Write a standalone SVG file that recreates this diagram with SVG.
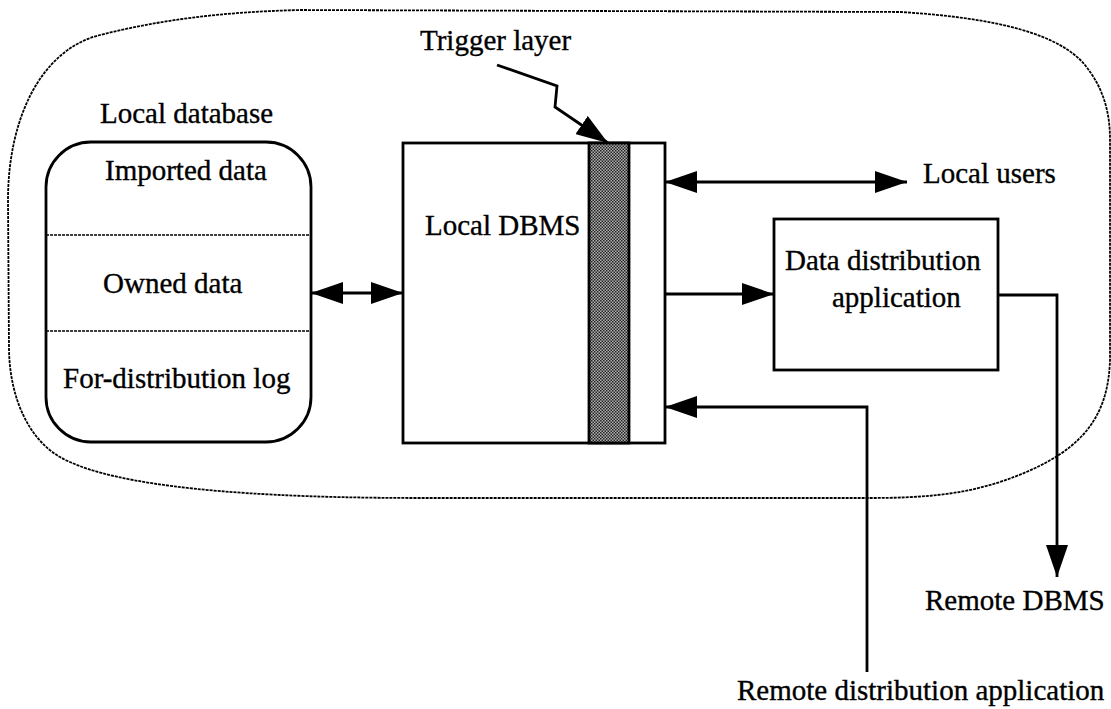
<svg xmlns="http://www.w3.org/2000/svg" width="1111" height="709" viewBox="0 0 1111 709">
<style>
text{font-family:"Liberation Serif","Times New Roman",serif;font-size:29px;fill:#000;stroke:#000;stroke-width:0.35}
.box{fill:#fff;stroke:#000;stroke-width:2.8}
.div{stroke:#000;stroke-width:1.6;stroke-dasharray:3 1;fill:none}
.wire{fill:none;stroke:#000;stroke-width:2.8}
.boundary{fill:none;stroke:#000;stroke-width:1.8;stroke-dasharray:3 1}
</style>
<defs>
<marker id="ah" markerUnits="userSpaceOnUse" markerWidth="32" markerHeight="22" refX="32" refY="11" orient="auto-start-reverse">
<path d="M0,0 L32,11 L0,22 Z" fill="#000"/>
</marker>
<pattern id="dots" width="3" height="3" patternUnits="userSpaceOnUse">
<rect width="3" height="3" fill="#b0b0b0"/>
<rect width="1.5" height="1.5" fill="#222"/>
<rect x="1.5" y="1.5" width="1.5" height="1.5" fill="#222"/>
</pattern>
</defs>
<g id="boundary">
<path class="boundary" d="M300,10 L900,12 C1000,18 1060,35 1085,65 C1105,90 1110,115 1110,140 L1110,360 C1108,420 1080,455 1000,482 C960,495 920,498 870,498 L420,498 C200,498 100,480 60,457 C30,440 10,400 9,350 L8,200 C8,120 40,50 100,35 C160,20 220,12 300,10 Z"/>
</g>
<g id="local-database">
<text x="100" y="123">Local database</text>
<rect class="box" x="46" y="142" width="265" height="300" rx="45" ry="45"/>
<line class="div" x1="46" y1="235" x2="311" y2="235"/>
<line class="div" x1="46" y1="331" x2="311" y2="331"/>
<text x="105" y="180">Imported data</text>
<text x="103" y="293">Owned data</text>
<text x="63" y="388">For-distribution log</text>
</g>
<g id="local-dbms">
<rect class="box" x="403" y="143" width="262" height="300"/>
<rect x="589" y="143" width="40" height="300" fill="url(#dots)" stroke="#000" stroke-width="2.8"/>
<text x="425" y="235">Local DBMS</text>
</g>
<g id="data-distribution-application">
<rect class="box" x="774" y="219" width="224" height="151"/>
<text x="785" y="270">Data distribution</text>
<text x="832" y="307">application</text>
</g>
<g id="labels">
<text x="420" y="50">Trigger layer</text>
<text x="923" y="183">Local users</text>
<text x="925" y="610">Remote DBMS</text>
<text x="737" y="700">Remote distribution application</text>
</g>
<g id="connectors">
<line class="wire" x1="311" y1="293" x2="403" y2="293" marker-start="url(#ah)" marker-end="url(#ah)"/>
<line class="wire" x1="665" y1="182" x2="907" y2="182" marker-start="url(#ah)" marker-end="url(#ah)"/>
<line class="wire" x1="665" y1="294" x2="774" y2="294" marker-end="url(#ah)"/>
<path class="wire" d="M998,295 H1057 V577" marker-end="url(#ah)"/>
<path class="wire" d="M867,672 V407 H665" marker-end="url(#ah)"/>
<polyline class="wire" points="497,65 557,86 555,107 608,143" marker-end="url(#ah)"/>
</g>
</svg>
